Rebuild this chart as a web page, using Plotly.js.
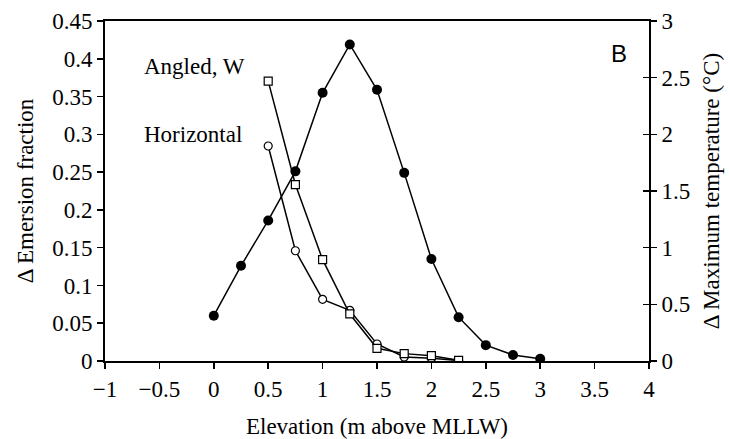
<!DOCTYPE html>
<html>
<head>
<meta charset="utf-8">
<script src="https://cdn.plot.ly/plotly-3.0.1.min.js"></script>
<style>html,body{margin:0;padding:0;background:#fff}#chart{width:730px;height:439px}</style>
</head>
<body>
<div id="chart"></div>
<script>
// Elevation (m above MLLW)
const elevEmersion = [0, 0.25, 0.5, 0.75, 1, 1.25, 1.5, 1.75, 2, 2.25, 2.5, 2.75, 3];
// Δ Emersion fraction (left axis)
const emersion = [0.06, 0.126, 0.186, 0.251, 0.355, 0.419, 0.359, 0.249, 0.135, 0.058, 0.021, 0.008, 0.003];

const elevTemp = [0.5, 0.75, 1, 1.25, 1.5, 1.75, 2, 2.25];
// Δ Maximum temperature (°C), right axis
const tempAngledW = [2.47, 1.557, 0.894, 0.415, 0.112, 0.065, 0.047, 0.006];
const tempHorizontal = [1.897, 0.973, 0.544, 0.447, 0.15, 0.035, 0.025, 0.004];

const xTicks = [-1, -0.5, 0, 0.5, 1, 1.5, 2, 2.5, 3, 3.5, 4];
const leftTicks = [0, 0.05, 0.1, 0.15, 0.2, 0.25, 0.3, 0.35, 0.4, 0.45];
const rightTicks = [0, 0.5, 1, 1.5, 2, 2.5, 3];

const F = {family: 'serif', size: 23, color: '#000'};

const traces = [
  {
    x: elevTemp, y: tempHorizontal, yaxis: 'y2', type: 'scatter', mode: 'lines+markers',
    name: 'Horizontal',
    line: {color: '#000', width: 1.5},
    marker: {symbol: 'circle', size: 8, color: '#fff', line: {color: '#000', width: 1.2}}
  },
  {
    x: elevTemp, y: tempAngledW, yaxis: 'y2', type: 'scatter', mode: 'lines+markers',
    name: 'Angled, W',
    line: {color: '#000', width: 1.5},
    marker: {symbol: 'square', size: 8, color: '#fff', line: {color: '#000', width: 1.2}}
  },
  {
    x: elevEmersion, y: emersion, yaxis: 'y', type: 'scatter', mode: 'lines+markers',
    name: 'Emersion',
    line: {color: '#000', width: 1.5},
    marker: {symbol: 'circle', size: 10, color: '#000'}
  },
  {x: [], y: [], yaxis: 'y3', type: 'scatter', mode: 'markers', showlegend: false, hoverinfo: 'skip'}
];

const layout = {
  width: 730, height: 439,
  margin: {l: 105, r: 81, t: 21, b: 78, pad: 0},
  showlegend: false,
  font: F,
  xaxis: {
    range: [-1, 4], tickvals: xTicks, tickfont: F,
    showgrid: false, zeroline: false,
    showline: true, linecolor: '#000', linewidth: 2, mirror: true,
    ticks: 'outside', ticklen: 6, tickwidth: 1.5, tickcolor: '#000',
    title: {text: 'Elevation (m above MLLW)', font: F, standoff: 20}
  },
  yaxis: {
    range: [0, 0.45], tickvals: leftTicks, tickfont: F,
    showgrid: false, zeroline: false,
    showline: true, linecolor: '#000', linewidth: 2,
    ticks: 'outside', ticklen: 6, tickwidth: 1.5, tickcolor: '#000',
    title: {text: '\u0394 Emersion fraction', font: F, standoff: 12}
  },
  yaxis2: {
    range: [0, 3], tickvals: rightTicks, tickfont: F,
    overlaying: 'y', side: 'right',
    showgrid: false, zeroline: false,
    showline: true, linecolor: '#000', linewidth: 2,
    ticks: 'outside', ticklen: 6, tickwidth: 1.5, tickcolor: '#000',
    title: {text: '\u0394 Maximum temperature (\u00B0C)', font: F, standoff: 14}
  },
  yaxis3: {
    range: [0, 3], tickvals: rightTicks, overlaying: 'y', side: 'right',
    showgrid: false, zeroline: false, showline: false, showticklabels: false,
    ticks: 'inside', ticklen: 6, tickwidth: 1.5, tickcolor: '#000'
  },
  annotations: [
    {xref: 'paper', yref: 'paper', x: 0.068, y: 0.865, xanchor: 'left', yanchor: 'middle',
     text: 'Angled, W', showarrow: false, font: F},
    {xref: 'paper', yref: 'paper', x: 0.068, y: 0.665, xanchor: 'left', yanchor: 'middle',
     text: 'Horizontal', showarrow: false, font: F},
    {xref: 'paper', yref: 'paper', x: 0.945, y: 0.905, xanchor: 'center', yanchor: 'middle',
     text: 'B', showarrow: false, font: {family: 'Liberation Sans', size: 24, color: '#000'}}
  ]
};

Plotly.newPlot('chart', traces, layout, {staticPlot: true});
</script>
</body>
</html>
